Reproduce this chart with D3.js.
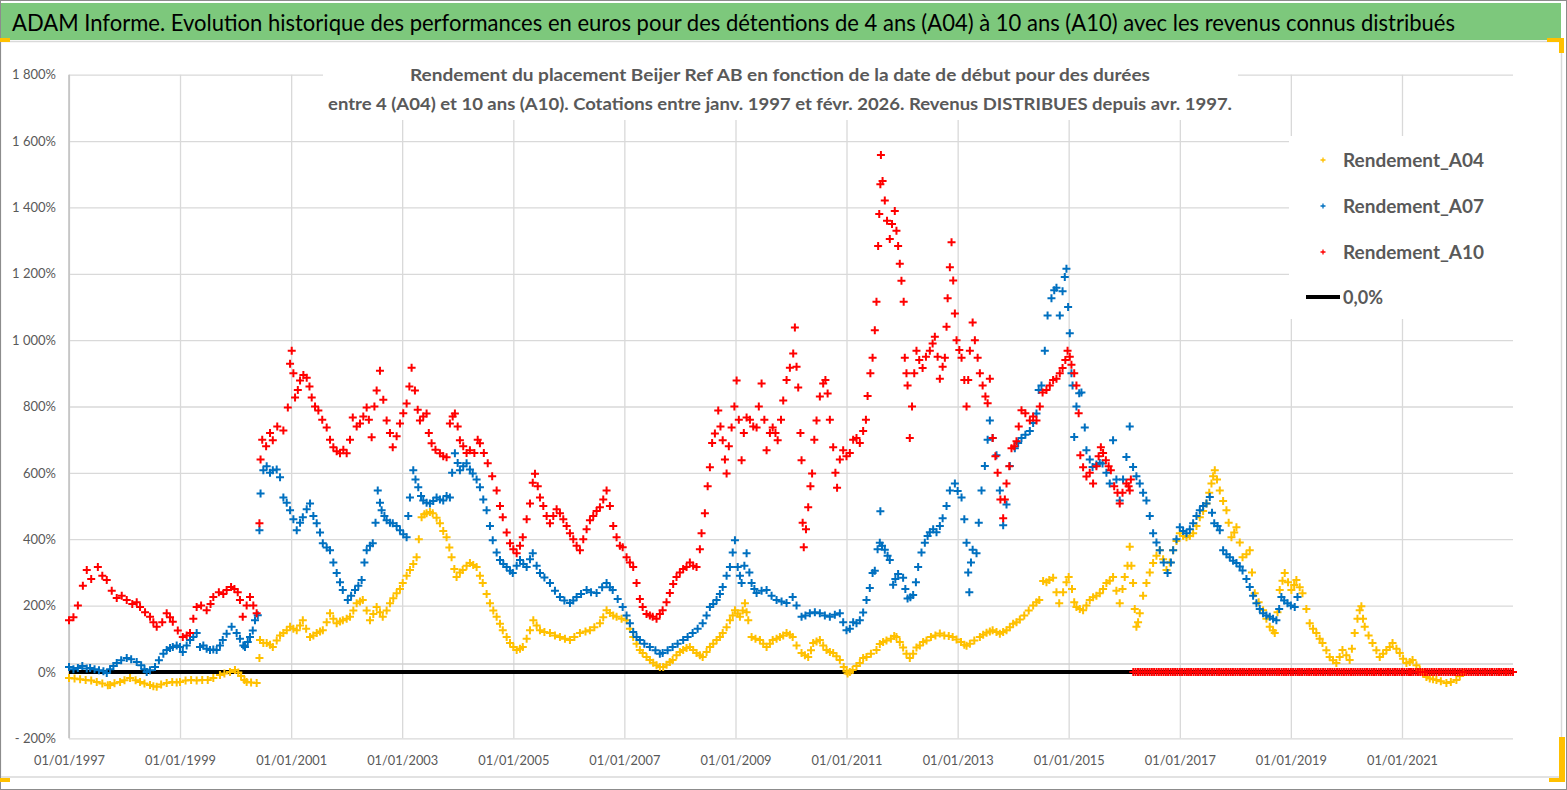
<!DOCTYPE html>
<html><head><meta charset="utf-8">
<script src="https://cdn.jsdelivr.net/npm/d3@7"></script>
<style>
body{margin:0;background:#fff}
svg{display:block}
text{font-family:Lato,"Open Sans","DejaVu Sans",sans-serif}
</style>
</head><body>
<svg id="c" width="1567" height="790"></svg>
<script>
// ---------------- DATA ----------------
const mainTitle = "ADAM Informe. Evolution historique des performances en euros pour des détentions de 4 ans (A04) à 10 ans (A10) avec les revenus connus distribués";
const chartTitle1 = "Rendement du placement Beijer Ref AB en fonction de la date de début pour des durées";
const chartTitle2 = "entre 4 (A04) et 10 ans (A10). Cotations entre janv. 1997 et févr. 2026. Revenus DISTRIBUES depuis avr. 1997.";
const yTicks = [-200, 0, 200, 400, 600, 800, 1000, 1200, 1400, 1600, 1800];
const yTickLabels = ["- 200%", "0%", "200%", "400%", "600%", "800%", "1 000%", "1 200%", "1 400%", "1 600%", "1 800%"];
const xTickYears = [1997, 1999, 2001, 2003, 2005, 2007, 2009, 2011, 2013, 2015, 2017, 2019, 2021];
const seriesNames = ["Rendement_A04", "Rendement_A07", "Rendement_A10"];
const seriesColors = ["#FFC000", "#0070C0", "#FF0000"];
const zeroLineName = "0,0%";

// [decimal year of start date, return in %]
const A04 = [
[1997.00,-18],[1997.10,-20],[1997.20,-22],[1997.30,-24],[1997.40,-26],[1997.50,-30],[1997.60,-35],[1997.70,-40],[1997.74,-39],[1997.82,-34],[1997.92,-30],
[1998.00,-25],[1998.10,-18],[1998.20,-25],[1998.28,-30],[1998.36,-35],[1998.46,-39],[1998.52,-43],[1998.58,-45],[1998.66,-38],[1998.76,-33],[1998.86,-30],[1998.94,-32],
[1999.00,-30],[1999.10,-26],[1999.20,-24],[1999.30,-26],[1999.40,-24],[1999.50,-24],[1999.60,-18],[1999.72,-9],[1999.80,-5],[1999.90,0],[1999.99,6],
[2000.05,-2],[2000.10,-12],[2000.16,-24],[2000.20,-30],[2000.28,-32],[2000.38,-33],[2000.43,42],[2000.44,96],[2000.50,87],[2000.56,87],[2000.62,82],[2000.67,75],[2000.74,95],[2000.80,110],[2000.86,117],[2000.92,126],[2000.98,136],
[2001.04,130],[2001.10,126],[2001.16,140],[2001.21,156],[2001.27,130],[2001.34,105],[2001.40,110],[2001.46,117],[2001.52,122],[2001.57,126],[2001.64,150],[2001.70,177],[2001.76,160],[2001.82,147],[2001.88,152],[2001.93,156],
[2002.00,160],[2002.06,166],[2002.12,185],[2002.18,207],[2002.24,212],[2002.29,217],[2002.36,185],[2002.42,156],[2002.48,175],[2002.54,196],[2002.60,180],[2002.65,166],[2002.72,185],[2002.78,207],[2002.84,222],[2002.90,237],[2002.96,250],
[2003.01,268],[2003.08,290],[2003.14,307],[2003.20,325],[2003.26,346],[2003.30,400],[2003.35,466],[2003.40,475],[2003.44,478],[2003.50,482],[2003.55,478],[2003.62,465],[2003.68,448],[2003.74,425],[2003.80,406],[2003.85,375],[2003.89,346],[2003.94,310],[2003.98,286],
[2004.04,300],[2004.09,307],[2004.16,320],[2004.22,328],[2004.28,322],[2004.34,316],[2004.40,290],[2004.45,268],[2004.52,235],[2004.58,207],[2004.64,185],[2004.70,166],[2004.76,145],[2004.81,126],[2004.88,105],[2004.94,87],
[2005.00,75],[2005.06,66],[2005.12,70],[2005.17,75],[2005.24,100],[2005.30,126],[2005.36,156],[2005.42,140],[2005.48,126],[2005.56,120],[2005.66,117],[2005.75,110],[2005.84,105],[2005.93,100],
[2006.02,96],[2006.10,105],[2006.20,117],[2006.30,122],[2006.38,126],[2006.46,135],[2006.56,147],[2006.62,165],[2006.68,186],[2006.74,178],[2006.80,170],[2006.86,166],[2006.95,160],
[2007.04,156],[2007.10,130],[2007.16,105],[2007.22,85],[2007.28,66],[2007.33,57],[2007.40,45],[2007.46,36],[2007.52,28],[2007.58,20],[2007.64,15],[2007.70,15],[2007.76,22],[2007.82,30],[2007.87,36],[2007.94,50],
[2008.00,60],[2008.06,66],[2008.12,72],[2008.18,75],[2008.24,66],[2008.30,57],[2008.36,50],[2008.41,45],[2008.48,60],[2008.54,75],[2008.60,85],[2008.66,96],[2008.72,105],[2008.77,117],[2008.84,135],[2008.90,156],[2008.95,170],[2008.99,186],
[2009.04,176],[2009.08,166],[2009.13,185],[2009.17,207],[2009.20,180],[2009.23,156],[2009.29,105],[2009.36,100],[2009.44,96],[2009.50,85],[2009.56,75],[2009.62,85],[2009.67,96],[2009.74,100],[2009.80,105],[2009.86,110],[2009.92,117],[2009.98,112],
[2010.03,105],[2010.10,80],[2010.19,57],[2010.25,50],[2010.31,45],[2010.36,65],[2010.40,87],[2010.46,92],[2010.52,96],[2010.58,80],[2010.64,66],[2010.70,60],[2010.76,57],[2010.82,47],[2010.88,36],[2010.95,15],
[2011.00,2],[2011.02,-5],[2011.06,0],[2011.11,6],[2011.18,18],[2011.24,27],[2011.30,42],[2011.36,45],[2011.44,55],[2011.54,66],[2011.60,84],[2011.66,90],[2011.72,95],[2011.80,100],[2011.86,108],[2011.90,105],[2011.96,90],
[2012.02,74],[2012.08,55],[2012.14,42],[2012.20,55],[2012.26,74],[2012.32,80],[2012.38,90],[2012.44,95],[2012.52,105],[2012.60,110],[2012.68,116],[2012.76,110],[2012.84,108],[2012.91,105],[2012.98,98],
[2013.06,90],[2013.12,82],[2013.16,79],[2013.22,85],[2013.30,95],[2013.40,105],[2013.46,112],[2013.52,118],[2013.58,122],[2013.63,126],[2013.70,120],[2013.76,115],[2013.82,120],[2013.88,126],[2013.94,135],
[2014.00,145],[2014.06,150],[2014.12,158],[2014.20,170],[2014.28,185],[2014.36,200],[2014.42,210],[2014.47,217],[2014.54,274],[2014.60,270],[2014.65,277],[2014.72,284],[2014.78,240],[2014.83,207],[2014.90,240],[2014.96,270],
[2015.00,286],[2015.06,250],[2015.10,210],[2015.14,196],[2015.20,190],[2015.26,186],[2015.32,200],[2015.38,217],[2015.44,225],[2015.50,230],[2015.56,237],[2015.62,250],[2015.68,268],[2015.74,275],[2015.80,286],[2015.86,245],[2015.92,207],[2015.97,250],
[2016.01,286],[2016.06,320],[2016.10,377],[2016.13,320],[2016.16,268],[2016.19,190],[2016.22,136],[2016.25,150],[2016.28,177],[2016.34,230],[2016.40,268],[2016.46,300],[2016.52,328],[2016.58,350],[2016.64,367],[2016.70,340],[2016.76,307],[2016.82,330],[2016.88,367],[2016.94,395],
[2017.00,418],[2017.06,410],[2017.12,406],[2017.18,410],[2017.24,418],[2017.30,440],[2017.36,466],[2017.42,485],[2017.48,508],[2017.53,540],[2017.57,568],[2017.60,590],[2017.63,608],[2017.67,580],[2017.72,547],[2017.78,515],[2017.84,487],[2017.88,450],[2017.93,406],[2017.98,420],
[2018.02,436],[2018.08,390],[2018.13,346],[2018.20,355],[2018.26,367],[2018.30,300],[2018.35,237],[2018.42,210],[2018.50,186],[2018.56,160],[2018.62,136],[2018.68,125],[2018.71,117],[2018.76,180],[2018.80,247],[2018.85,275],[2018.89,298],[2018.95,270],
[2019.01,247],[2019.06,262],[2019.10,277],[2019.16,255],[2019.21,237],[2019.28,190],[2019.34,147],[2019.40,130],[2019.46,117],[2019.52,100],[2019.57,87],[2019.64,65],[2019.70,45],[2019.76,35],[2019.82,27],[2019.88,45],[2019.93,66],
[2020.00,50],[2020.06,36],[2020.10,70],[2020.15,117],[2020.20,160],[2020.24,186],[2020.27,198],[2020.30,160],[2020.33,136],[2020.40,110],[2020.47,87],[2020.54,65],[2020.60,45],[2020.66,55],[2020.72,66],[2020.78,75],[2020.83,87],[2020.90,70],[2020.96,57],
[2021.02,40],[2021.08,27],[2021.14,30],[2021.19,36],[2021.26,20],[2021.32,6],[2021.38,-5],[2021.44,-15],[2021.50,-20],[2021.56,-22],[2021.62,-24],[2021.70,-28],[2021.80,-33],[2021.88,-30],[2021.98,-24],
[2022.04,-12],[2022.10,-3]
];

const A07 = [
[1997.00,15],[1997.08,8],[1997.16,12],[1997.24,18],[1997.32,10],[1997.38,12],[1997.46,8],[1997.54,5],[1997.62,2],[1997.68,-3],[1997.74,8],[1997.80,18],[1997.86,27],[1997.94,35],
[1998.04,42],[1998.12,38],[1998.22,30],[1998.30,20],[1998.36,8],[1998.40,0],[1998.46,5],[1998.55,15],[1998.62,35],[1998.70,55],[1998.76,66],[1998.82,72],[1998.87,75],[1998.94,80],
[1999.00,75],[1999.05,60],[1999.12,80],[1999.18,96],[1999.24,105],[1999.30,117],[1999.36,75],[1999.42,80],[1999.48,70],[1999.54,66],[1999.60,68],[1999.66,66],[1999.72,80],[1999.77,96],[1999.84,115],[1999.93,136],
[2000.02,117],[2000.08,100],[2000.14,80],[2000.17,75],[2000.22,90],[2000.26,105],[2000.31,125],[2000.35,156],[2000.40,171],[2000.43,427],[2000.45,538],[2000.50,608],[2000.56,620],[2000.62,600],[2000.67,608],[2000.74,610],[2000.80,587],[2000.86,526],[2000.92,510],[2000.98,487],
[2001.04,460],[2001.10,427],[2001.16,450],[2001.21,466],[2001.28,490],[2001.34,508],[2001.40,470],[2001.46,448],[2001.52,420],[2001.57,388],[2001.64,375],[2001.70,367],[2001.76,330],[2001.82,298],[2001.88,270],[2001.93,247],
[2002.02,217],[2002.08,230],[2002.15,247],[2002.21,260],[2002.27,277],[2002.32,330],[2002.36,367],[2002.42,380],[2002.47,388],[2002.52,450],[2002.56,547],[2002.60,510],[2002.63,487],[2002.68,470],[2002.72,457],[2002.78,450],[2002.83,448],[2002.90,440],[2002.96,427],
[2003.02,415],[2003.08,406],[2003.11,470],[2003.14,526],[2003.20,608],[2003.24,580],[2003.29,557],[2003.34,530],[2003.38,517],[2003.44,510],[2003.50,508],[2003.56,515],[2003.62,526],[2003.68,520],[2003.74,517],[2003.80,530],[2003.86,526],[2003.90,600],[2003.95,659],
[2004.00,630],[2004.04,608],[2004.10,620],[2004.16,629],[2004.22,610],[2004.27,598],[2004.34,580],[2004.40,557],[2004.46,520],[2004.52,487],[2004.58,440],[2004.63,397],[2004.70,360],[2004.76,337],[2004.82,325],[2004.88,316],[2004.94,305],[2004.99,298],
[2005.06,320],[2005.12,337],[2005.18,325],[2005.24,316],[2005.30,340],[2005.35,358],[2005.42,320],[2005.48,298],[2005.56,285],[2005.66,268],[2005.75,245],[2005.84,226],[2005.92,215],
[2006.02,208],[2006.08,215],[2006.14,226],[2006.22,235],[2006.32,247],[2006.40,240],[2006.50,238],[2006.60,255],[2006.68,268],[2006.74,255],[2006.79,247],[2006.88,220],[2006.97,196],
[2007.04,170],[2007.10,147],[2007.16,120],[2007.22,105],[2007.28,96],[2007.36,85],[2007.46,75],[2007.56,65],[2007.64,55],[2007.69,57],[2007.78,65],[2007.87,75],[2007.96,85],
[2008.06,96],[2008.14,105],[2008.23,117],[2008.32,130],[2008.41,147],[2008.48,170],[2008.54,196],[2008.60,205],[2008.66,217],[2008.72,235],[2008.77,256],[2008.84,290],[2008.90,316],[2008.95,360],[2008.99,397],
[2009.04,316],[2009.08,290],[2009.11,268],[2009.16,320],[2009.20,358],[2009.25,300],[2009.29,268],[2009.34,250],[2009.38,238],[2009.47,245],[2009.56,247],[2009.65,230],[2009.74,217],[2009.83,212],[2009.92,208],
[2010.03,226],[2010.10,200],[2010.19,166],[2010.26,170],[2010.34,177],[2010.43,180],[2010.52,177],[2010.61,170],[2010.70,166],[2010.79,172],[2010.88,177],[2010.94,150],
[2011.00,126],[2011.06,130],[2011.12,150],[2011.18,147],[2011.24,156],[2011.30,179],[2011.36,217],[2011.42,253],[2011.47,298],[2011.51,305],[2011.56,370],[2011.60,389],[2011.61,484],[2011.64,380],[2011.69,368],[2011.74,350],[2011.78,337],[2011.84,263],[2011.88,280],[2011.93,295],
[2012.02,284],[2012.06,250],[2012.10,221],[2012.15,225],[2012.20,232],[2012.25,270],[2012.29,316],[2012.35,360],[2012.41,389],[2012.46,410],[2012.50,421],[2012.56,430],[2012.62,421],[2012.68,440],[2012.73,463],[2012.80,500],[2012.86,547],[2012.95,568],
[2013.00,545],[2013.07,526],[2013.12,460],[2013.16,389],[2013.19,300],[2013.21,240],[2013.24,330],[2013.27,368],[2013.34,358],[2013.38,450],[2013.43,547],[2013.49,621],[2013.54,700],[2013.58,758],[2013.63,705],[2013.70,653],[2013.76,547],[2013.82,442],[2013.88,505],[2013.94,621],
[2014.03,674],[2014.09,690],[2014.15,705],[2014.22,715],[2014.30,726],[2014.36,750],[2014.42,779],[2014.46,850],[2014.51,863],[2014.57,968],[2014.62,1074],[2014.69,1126],[2014.74,1150],[2014.78,1158],[2014.84,1074],[2014.89,1147],[2014.93,1190],[2014.96,1215],[2014.99,1100],
[2015.02,1021],[2015.05,900],[2015.07,863],[2015.10,708],[2015.14,800],[2015.19,840],[2015.23,842],[2015.29,737],[2015.32,668],[2015.38,640],[2015.43,618],[2015.50,625],[2015.56,630],[2015.61,628],[2015.68,600],[2015.74,568],[2015.80,698],[2015.86,580],[2015.92,517],[2015.98,580],
[2016.04,648],[2016.10,740],[2016.16,618],[2016.22,590],[2016.28,568],[2016.34,540],[2016.40,517],[2016.46,470],[2016.52,418],[2016.58,390],[2016.64,367],[2016.71,330],[2016.78,298],[2016.84,330],[2016.88,367],[2016.94,400],
[2017.00,436],[2017.06,425],[2017.12,418],[2017.18,430],[2017.24,448],[2017.30,470],[2017.36,487],[2017.42,500],[2017.48,508],[2017.54,527],[2017.58,480],[2017.62,448],[2017.68,440],[2017.72,427],[2017.78,367],[2017.84,355],[2017.90,346],[2017.96,335],
[2018.02,328],[2018.08,318],[2018.13,306],[2018.20,280],[2018.26,256],[2018.32,230],[2018.38,207],[2018.44,190],[2018.50,177],[2018.56,170],[2018.62,166],[2018.68,160],[2018.74,156],[2018.79,190],[2018.83,226],[2018.88,215],[2018.94,207],
[2019.00,200],[2019.07,196],[2019.12,226]
];

const A10 = [
[1997.00,156],[1997.08,165],[1997.16,200],[1997.25,260],[1997.32,307],[1997.40,280],[1997.52,316],[1997.60,290],[1997.68,277],[1997.77,245],[1997.86,223],[1997.95,230],
[1998.04,217],[1998.14,205],[1998.22,210],[1998.28,196],[1998.37,180],[1998.46,166],[1998.52,150],[1998.58,136],[1998.68,150],[1998.76,177],[1998.82,165],[1998.87,151],[1998.96,125],
[1999.05,105],[1999.12,110],[1999.18,117],[1999.24,160],[1999.30,196],[1999.38,200],[1999.48,186],[1999.55,205],[1999.60,226],[1999.70,240],[1999.78,235],[1999.84,247],[1999.92,256],[1999.98,250],
[2000.04,240],[2000.08,217],[2000.13,166],[2000.20,200],[2000.26,226],[2000.32,200],[2000.38,177],[2000.43,448],[2000.45,640],[2000.48,700],[2000.55,680],[2000.62,720],[2000.67,698],[2000.75,740],[2000.86,728],[2000.94,797],[2000.98,929],
[2001.01,968],[2001.04,900],[2001.07,827],[2001.12,850],[2001.16,878],[2001.22,895],[2001.28,887],[2001.33,860],[2001.37,827],[2001.43,800],[2001.49,788],[2001.56,760],[2001.64,737],[2001.70,700],[2001.76,677],[2001.82,665],[2001.88,659],[2001.94,670],
[2002.00,659],[2002.06,700],[2002.11,767],[2002.18,740],[2002.24,749],[2002.30,770],[2002.36,797],[2002.40,760],[2002.45,707],[2002.50,800],[2002.54,848],[2002.60,908],[2002.66,820],[2002.72,758],[2002.78,720],[2002.83,677],[2002.90,710],[2002.96,749],
[2003.02,780],[2003.08,809],[2003.13,860],[2003.17,917],[2003.23,848],[2003.28,790],[2003.32,758],[2003.38,770],[2003.44,779],[2003.48,720],[2003.53,689],[2003.60,670],[2003.68,659],[2003.74,650],[2003.80,647],[2003.86,749],[2003.91,770],[2003.95,779],
[2004.00,740],[2004.04,698],[2004.10,680],[2004.16,660],[2004.22,668],[2004.30,660],[2004.36,700],[2004.40,689],[2004.47,660],[2004.54,629],[2004.62,590],[2004.70,547],[2004.76,500],[2004.81,466],[2004.88,420],[2004.94,388],
[2005.00,370],[2005.06,358],[2005.12,380],[2005.17,406],[2005.24,460],[2005.30,508],[2005.35,570],[2005.39,597],[2005.44,560],[2005.48,526],[2005.54,500],[2005.60,470],[2005.66,448],[2005.72,470],[2005.78,490],[2005.84,478],[2005.90,460],[2005.96,440],
[2006.02,418],[2006.08,400],[2006.14,380],[2006.20,367],[2006.26,400],[2006.32,430],[2006.38,457],[2006.44,470],[2006.50,485],[2006.56,496],[2006.62,520],[2006.68,547],[2006.74,500],[2006.80,440],[2006.86,406],[2006.92,380],[2006.97,376],
[2007.04,346],[2007.10,330],[2007.16,316],[2007.22,268],[2007.28,220],[2007.33,196],[2007.40,175],[2007.46,170],[2007.51,166],[2007.58,160],[2007.64,175],[2007.69,186],[2007.76,210],[2007.82,238],[2007.88,265],[2007.94,286],
[2008.00,300],[2008.06,310],[2008.12,316],[2008.18,330],[2008.24,320],[2008.30,316],[2008.36,370],[2008.39,418],[2008.45,478],[2008.50,560],[2008.54,617],[2008.58,690],[2008.63,719],[2008.69,788],[2008.73,740],[2008.77,698],[2008.81,640],[2008.84,598],[2008.88,680],[2008.93,737],[2008.98,800],
[2009.02,878],[2009.06,760],[2009.11,638],[2009.15,720],[2009.20,767],[2009.26,760],[2009.32,740],[2009.38,737],[2009.42,800],[2009.47,869],[2009.52,760],[2009.56,668],[2009.62,720],[2009.67,737],[2009.72,720],[2009.76,698],[2009.82,760],[2009.86,818],[2009.92,880],[2009.98,917],
[2010.04,960],[2010.07,1038],[2010.10,920],[2010.13,857],[2010.17,720],[2010.19,638],[2010.21,450],[2010.23,376],[2010.27,430],[2010.31,496],[2010.35,560],[2010.38,598],[2010.42,700],[2010.46,758],[2010.52,830],[2010.58,869],[2010.62,880],[2010.66,839],[2010.70,760],[2010.76,677],[2010.80,600],[2010.83,555],[2010.88,640],[2010.94,668],
[2011.00,650],[2011.06,660],[2011.12,700],[2011.18,705],[2011.24,690],[2011.30,726],[2011.35,760],[2011.38,832],[2011.43,900],[2011.47,947],[2011.51,1030],[2011.54,1116],[2011.57,1284],[2011.59,1380],[2011.61,1470],[2011.62,1558],[2011.65,1480],[2011.69,1421],[2011.73,1360],[2011.78,1305],[2011.82,1350],[2011.87,1389],[2011.90,1330],[2011.93,1284],[2011.96,1230],[2011.99,1179],
[2012.03,1116],[2012.05,947],[2012.08,900],[2012.10,863],[2012.14,705],[2012.18,800],[2012.22,900],[2012.26,968],[2012.31,940],[2012.37,916],[2012.43,950],[2012.50,968],[2012.55,990],[2012.59,1010],[2012.64,950],[2012.68,884],[2012.73,920],[2012.77,947],[2012.80,1040],[2012.82,1126],[2012.86,1220],[2012.89,1295],[2012.92,1180],[2012.95,1080],[2012.98,1000],
[2013.03,970],[2013.07,947],[2013.12,880],[2013.16,800],[2013.19,880],[2013.22,968],[2013.27,1053],[2013.31,1000],[2013.36,947],[2013.40,900],[2013.45,863],[2013.50,830],[2013.54,810],[2013.58,884],[2013.63,705],[2013.68,650],[2013.72,600],[2013.77,520],[2013.82,463],[2013.85,520],[2013.88,568],[2013.93,620],[2013.97,674],
[2014.02,680],[2014.06,695],[2014.10,740],[2014.15,789],[2014.22,780],[2014.30,758],[2014.36,770],[2014.42,758],[2014.48,800],[2014.53,842],[2014.60,850],[2014.66,863],[2014.72,880],[2014.78,884],[2014.84,900],[2014.89,916],[2014.94,940],[2014.98,968],
[2015.02,950],[2015.05,926],[2015.10,900],[2015.14,863],[2015.18,780],[2015.21,653],[2015.26,617],[2015.32,589],[2015.38,600],[2015.44,568],[2015.50,620],[2015.54,650],[2015.58,677],[2015.62,660],[2015.67,638],[2015.72,620],[2015.76,608],[2015.82,560],[2015.88,540],[2015.92,508],[2015.97,540],
[2016.04,568],[2016.08,560],[2016.10,547],[2016.12,580]
];
// A10 has no 10-year return after Feb 2016: shown as 0, twice a month (1st and 16th) from March 2016 to Dec 2022
const A10_zeroStart = [2016, 2];   // [year, month index]
const A10_zeros = [
0,0,0,0,0,0,0,0,0,0,0,0,0,0,0,0,0,0,0,0,
0,0,0,0,0,0,0,0,0,0,0,0,0,0,0,0,0,0,0,0,0,0,0,0,
0,0,0,0,0,0,0,0,0,0,0,0,0,0,0,0,0,0,0,0,0,0,0,0,
0,0,0,0,0,0,0,0,0,0,0,0,0,0,0,0,0,0,0,0,0,0,0,0,
0,0,0,0,0,0,0,0,0,0,0,0,0,0,0,0,0,0,0,0,0,0,0,0,
0,0,0,0,0,0,0,0,0,0,0,0,0,0,0,0,0,0,0,0,0,0,0,0,
0,0,0,0,0,0,0,0,0,0,0,0,0,0,0,0,0,0,0,0,0,0,0,0,
0
];
const zeroLine = [[1997.0, 0], [2023.0, 0]];

// ---------------- CHART ----------------
(function(){
const W = 1567, H = 790;
const svg = d3.select("#c");
const toDate = t => { const yr = Math.floor(t); const s = new Date(yr,0,1).getTime(); const e = new Date(yr+1,0,1).getTime(); return new Date(s + (t - yr) * (e - s)); };

const pL = 69, pR = 1513, pT = 74.7, pB = 738.3;
const x = d3.scaleTime().domain([new Date(1997,0,1), new Date(2023,0,1)]).range([pL, pR]);
const y = d3.scaleLinear().domain([-200, 1800]).range([pB, pT]);

// page background / frame
svg.append("rect").attr("x",0).attr("y",0).attr("width",W).attr("height",H).attr("fill","#fff");
svg.append("rect").attr("x",0).attr("y",3).attr("width",1561).attr("height",37).attr("fill","#7DC87C");
svg.append("text").attr("x",12).attr("y",31).attr("font-size",23).attr("fill","#000")
  .attr("textLength",1443).attr("lengthAdjust","spacingAndGlyphs").text(mainTitle);
svg.append("rect").attr("x",0.5).attr("y",41.5).attr("width",1561).attr("height",735.5)
  .attr("fill","none").attr("stroke","#D9D9D9").attr("stroke-width",1.5);
svg.append("rect").attr("x",0.5).attr("y",0.5).attr("width",W-1).attr("height",H-1)
  .attr("fill","none").attr("stroke","#8C8C8C").attr("stroke-width",1);

// y axis + horizontal gridlines
const yAx = svg.append("g").attr("transform",`translate(${pL},0)`)
  .call(d3.axisLeft(y).tickValues(yTicks).tickSize(-(pR-pL)).tickPadding(13)
        .tickFormat((d,i) => yTickLabels[i]));
yAx.select(".domain").remove();
yAx.selectAll(".tick line").attr("stroke","#D9D9D9").attr("stroke-width",1.3);
yAx.selectAll(".tick text").attr("font-size",13).attr("fill","#595959")
  .attr("font-family","Lato,'Open Sans',sans-serif");

// x axis + vertical gridlines
const xTicks = xTickYears.map(yr => new Date(yr,0,1));
const xAx = svg.append("g").attr("transform",`translate(0,${pB})`)
  .call(d3.axisBottom(x).tickValues(xTicks).tickSize(-(pB-pT)).tickPadding(17)
        .tickFormat(d3.timeFormat("%d/%m/%Y")));
xAx.select(".domain").remove();
xAx.selectAll(".tick line").attr("stroke","#D9D9D9").attr("stroke-width",1.3);
xAx.selectAll(".tick text").attr("font-size",14).attr("fill","#595959")
  .attr("font-family","Lato,'Open Sans',sans-serif").attr("textLength",71).attr("lengthAdjust","spacingAndGlyphs");
// vertical axis line
svg.append("line").attr("x1",pL).attr("x2",pL).attr("y1",pT).attr("y2",pB)
  .attr("stroke","#BFBFBF").attr("stroke-width",1.5);
// horizontal axis line
svg.append("line").attr("x1",pL).attr("x2",pR).attr("y1",y(0)-8).attr("y2",y(0)-8)
  .attr("stroke","#D0D0D0").attr("stroke-width",1.5);

// chart title box
svg.append("rect").attr("x",323).attr("y",43).attr("width",915).attr("height",77).attr("fill","#fff");
svg.append("text").attr("x",410).attr("y",81).attr("font-size",17).attr("font-weight","bold").attr("fill","#595959")
  .attr("textLength",740).attr("lengthAdjust","spacingAndGlyphs").text(chartTitle1);
svg.append("text").attr("x",328).attr("y",110).attr("font-size",17).attr("font-weight","bold").attr("fill","#595959")
  .attr("textLength",904).attr("lengthAdjust","spacingAndGlyphs").text(chartTitle2);

// zero line series
svg.append("path").datum(zeroLine)
  .attr("d", d3.line().x(d => x(toDate(d[0]))).y(d => y(d[1])))
  .attr("stroke","#000").attr("stroke-width",4).attr("fill","none");

// scatter series
const plus = "M-4,0H4M0,-4V4";
const a10All = A10.map(d => ({date: toDate(d[0]), v: d[1]}))
  .concat(A10_zeros.map((v,i) => ({date: new Date(A10_zeroStart[0], A10_zeroStart[1] + Math.floor(i/2), i % 2 ? 16 : 1), v})));
const series = [
  A04.map(d => ({date: toDate(d[0]), v: d[1]})),
  A07.map(d => ({date: toDate(d[0]), v: d[1]})),
  a10All
];
series.forEach((data, si) => {
  svg.append("g").selectAll("path").data(data).join("path")
    .attr("transform", d => `translate(${x(d.date)},${y(d.v)})`)
    .attr("d", plus).attr("stroke", seriesColors[si]).attr("stroke-width",2).attr("fill","none");
});

// legend
svg.append("rect").attr("x",1289).attr("y",136).attr("width",224).attr("height",183).attr("fill","#fff");
const legY = [160, 206, 252];
seriesNames.forEach((n,i) => {
  svg.append("path").attr("transform",`translate(1323,${legY[i]})`).attr("d","M-2.5,0H2.5M0,-2.5V2.5")
    .attr("stroke",seriesColors[i]).attr("stroke-width",1.3).attr("fill","none");
  svg.append("text").attr("x",1343).attr("y",legY[i]+7).attr("font-size",19).attr("font-weight","bold")
    .attr("fill","#595959").attr("textLength",141).attr("lengthAdjust","spacingAndGlyphs").text(n);
});
svg.append("line").attr("x1",1306).attr("x2",1340).attr("y1",297).attr("y2",297).attr("stroke","#000").attr("stroke-width",4);
svg.append("text").attr("x",1343).attr("y",304).attr("font-size",19).attr("font-weight","bold")
  .attr("fill","#595959").attr("textLength",40).attr("lengthAdjust","spacingAndGlyphs").text(zeroLineName);

// selection handles (orange)
const orange = "#FFC000";
[[0,38,10,4],[1547,38,17,4],[1559,38,5,15],[1559,737,6,45],[1549,778,16,4],[0,778,10,4]].forEach(r =>
  svg.append("rect").attr("x",r[0]).attr("y",r[1]).attr("width",r[2]).attr("height",r[3]).attr("fill",orange));
})();
</script>
</body></html>
